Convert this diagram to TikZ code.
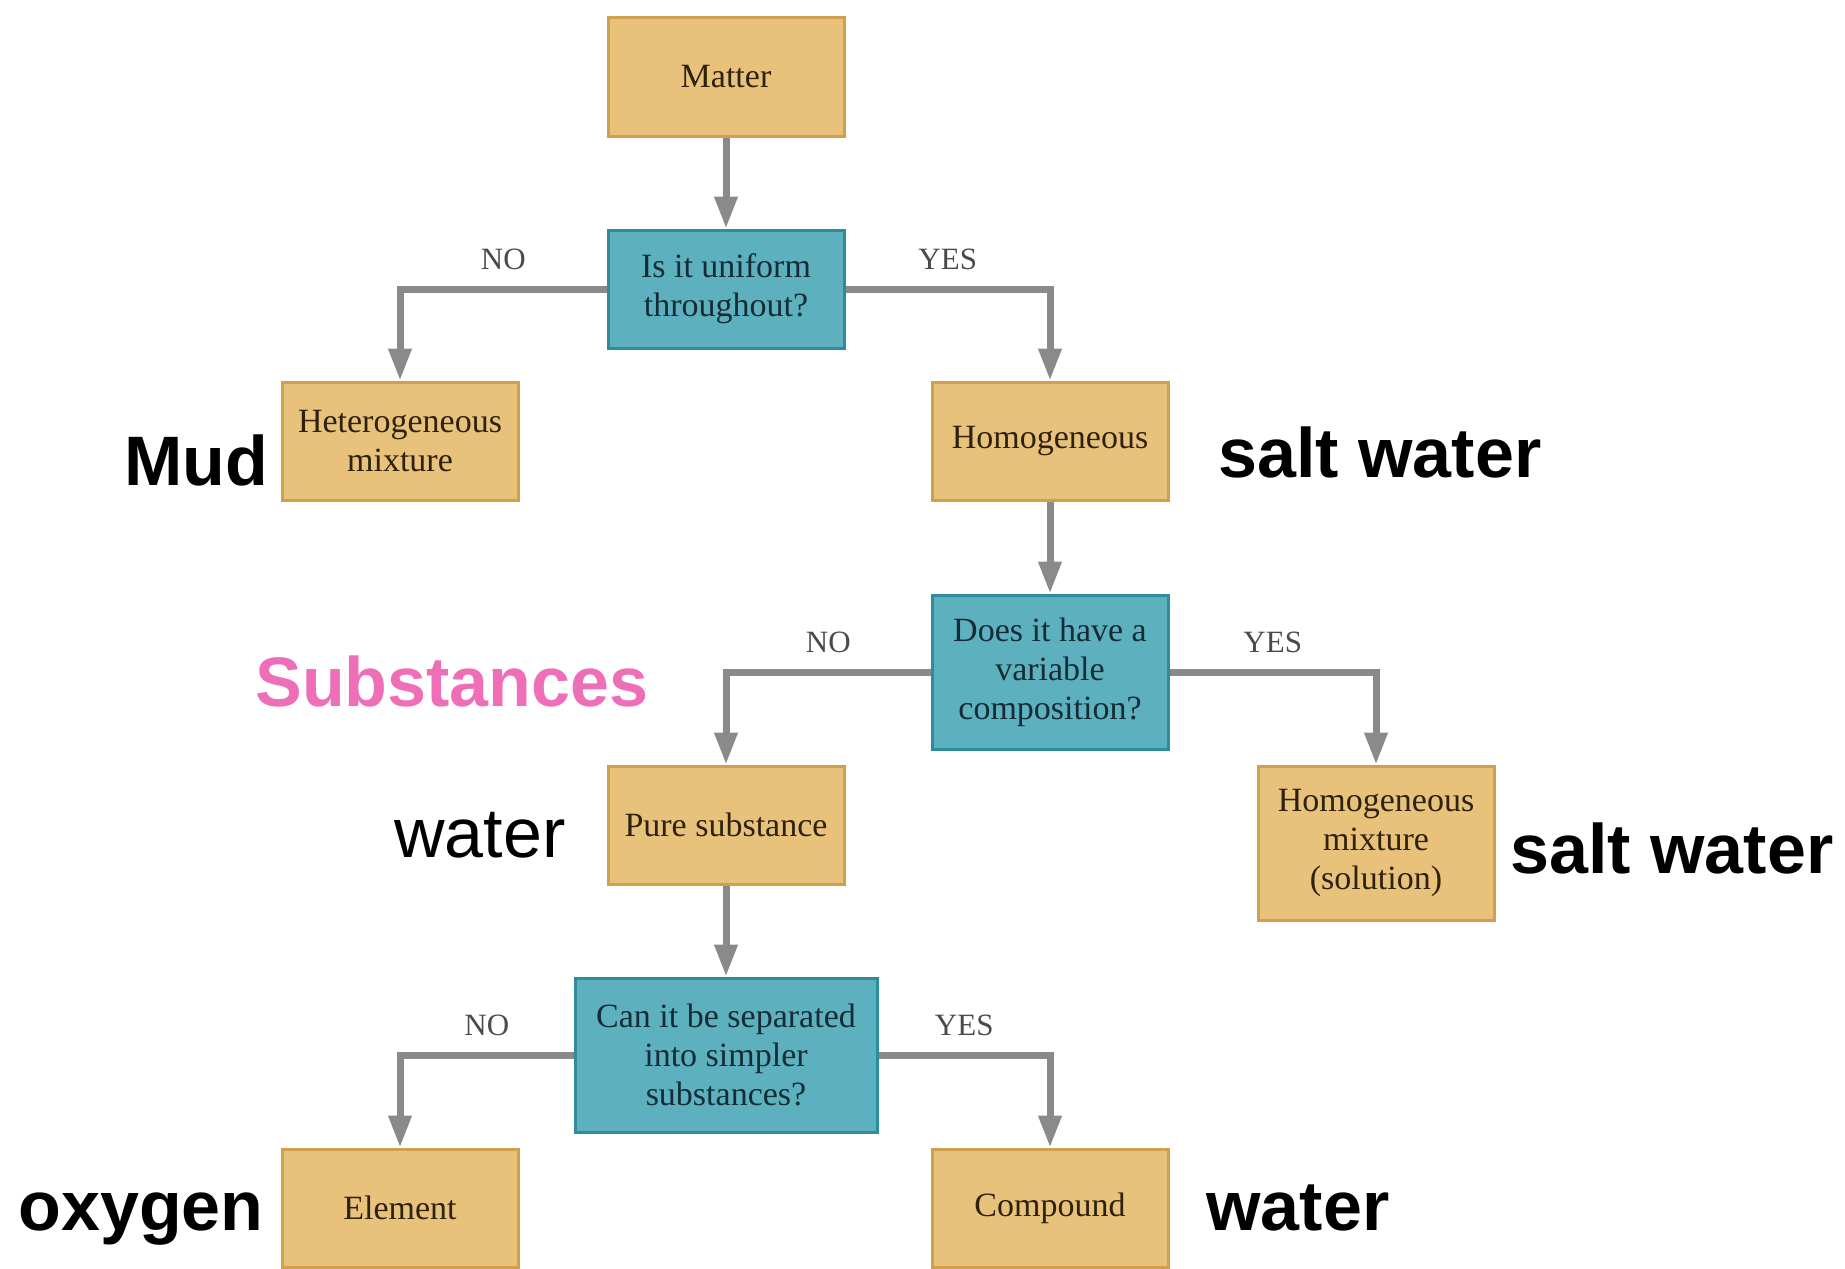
\documentclass[tikz,border=0pt]{standalone}
\usepackage{fontspec}
\setmainfont{Liberation Serif}
\newfontfamily\labelfont{Liberation Sans}
\usetikzlibrary{arrows.meta}

\definecolor{tanfill}{HTML}{E8C17B}
\definecolor{tanline}{HTML}{CFA14E}
\definecolor{tantext}{HTML}{2E220E}
\definecolor{tealfill}{HTML}{5DB1BF}
\definecolor{tealline}{HTML}{2E8C9C}
\definecolor{tealtext}{HTML}{152C36}
\definecolor{flowgrey}{HTML}{8A8A8A}
\definecolor{answergrey}{HTML}{4A4A4A}
\definecolor{pinklabel}{HTML}{EE6FB8}

\begin{document}
\begin{tikzpicture}[x=0.5pt,y=-0.5pt]
\tikzset{tanbox/.style=
            {draw=tanline,fill=tanfill,line width=1.5pt,minimum width=118pt,
             minimum height=59pt,align=center,inner sep=2pt,text=tantext,
             font=\fontsize{17}{19.5}\selectfont},
         tealbox/.style=
            {tanbox,draw=tealline,fill=tealfill,text=tealtext},
         flow/.style=
            {draw=flowgrey,line width=3.5pt,-{Triangle[length=16pt,width=11pt]}},
         answer/.style=
            {font=\fontsize{15.5}{15.5}\selectfont,text=answergrey,inner sep=3pt,
             above=5pt},
         sidelabel/.style=
            {font=\labelfont\bfseries\fontsize{35}{35}\selectfont,
             anchor=base west,inner sep=0pt}}
\useasboundingbox (0,0) rectangle (1845,1268);

% boxes
\node[tanbox] (matter) at (726,77) {Matter};
\node[tealbox] (uniform) at (726,289) {Is it uniform\\throughout?};
\node[tanbox] (hetero) at (400,441) {Heterogeneous\\mixture};
\node[tanbox] (homog) at (1050,441) {Homogeneous};
\node[tealbox,minimum height=77pt] (variable) at (1050,672) {Does it have a\\variable\\composition?};
\node[tanbox] (pure) at (726,825) {Pure substance};
\node[tanbox,minimum height=77pt] (solution) at (1376,843) {Homogeneous\\mixture\\(solution)};
\node[tealbox,minimum width=151pt,minimum height=77pt] (separate) at (726,1055) {Can it be separated\\into simpler\\substances?};
\node[tanbox] (element) at (400,1208) {Element};
\node[tanbox] (compound) at (1050,1208) {Compound};

% examples
\node[sidelabel] (mud) at (124,485) {Mud};
\node[sidelabel] (saltA) at (1218,477) {salt water};
\node[sidelabel,text=pinklabel] (subst) at (255,706) {Substances};
\node[sidelabel,font=\labelfont\fontsize{35}{35}\selectfont] (waterA) at (394,857) {water};
\node[sidelabel] (saltB) at (1510,873) {salt water};
\node[sidelabel] (oxygen) at (18,1230) {oxygen};
\node[sidelabel] (waterB) at (1206,1230) {water};

% connectors
\draw[flow] (matter) -- (uniform);
\draw[flow] (uniform.west) -| node[answer,pos=0.25] {NO} (hetero.north);
\draw[flow] (uniform.east) -| node[answer,pos=0.25] {YES} (homog.north);
\draw[flow] (homog) -- (variable);
\draw[flow] (variable.west) -| node[answer,pos=0.25] {NO} (pure.north);
\draw[flow] (variable.east) -| node[answer,pos=0.25] {YES} (solution.north);
\draw[flow] (pure) -- (separate);
\draw[flow] (separate.west) -| node[answer,pos=0.25] {NO} (element.north);
\draw[flow] (separate.east) -| node[answer,pos=0.25] {YES} (compound.north);
\end{tikzpicture}
\end{document}
